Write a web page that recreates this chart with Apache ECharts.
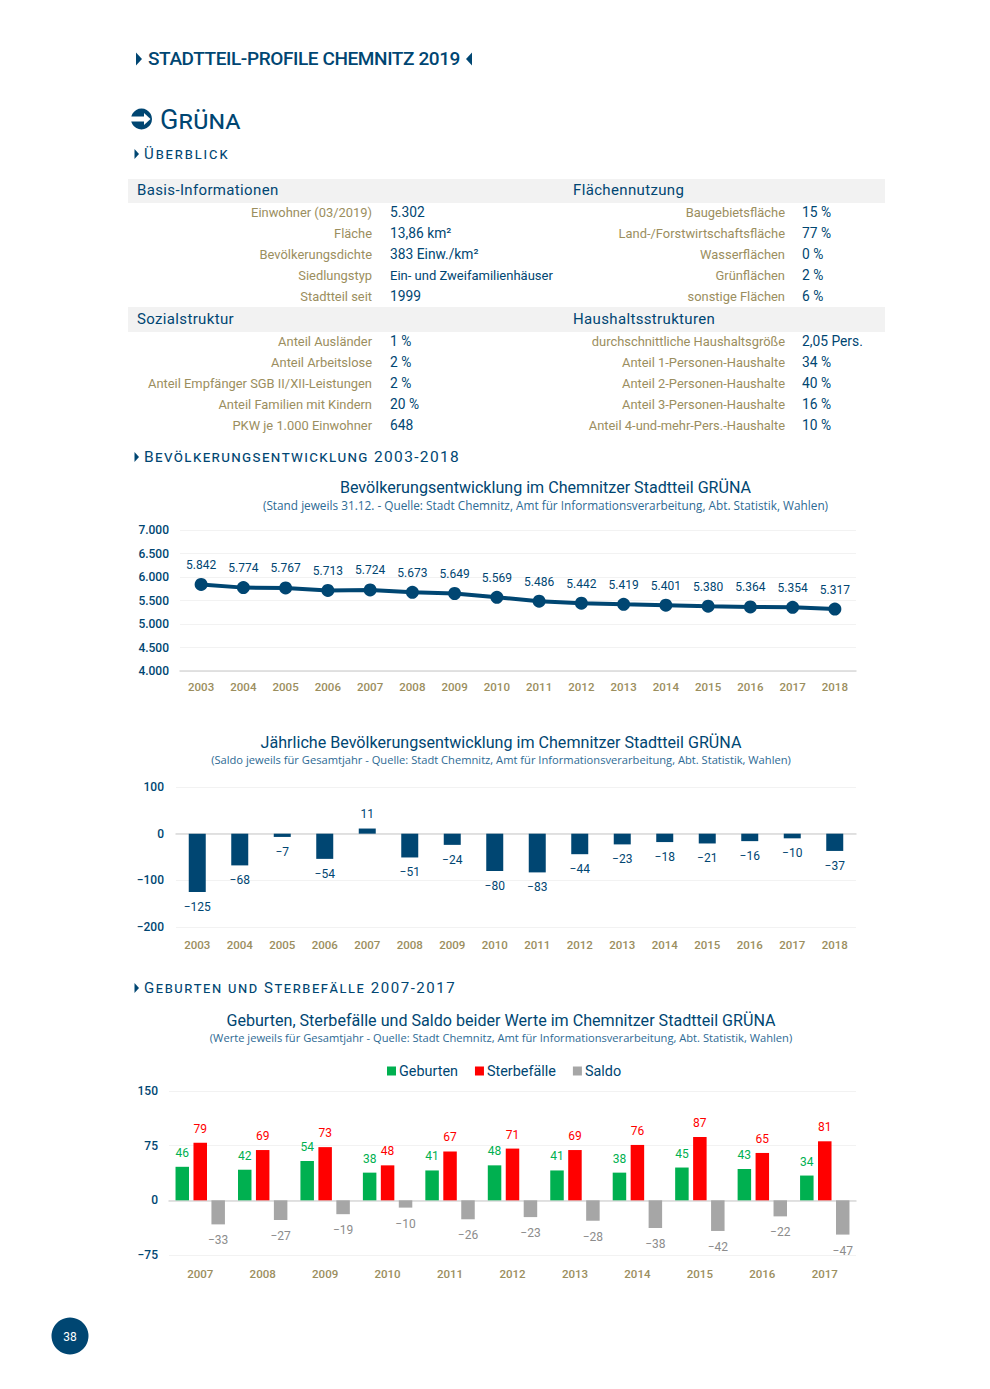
<!DOCTYPE html>
<html><head><meta charset="utf-8">
<style>html,body{margin:0;padding:0;background:#fff}#c{width:990px;height:1389px}</style>
<script src="https://cdn.jsdelivr.net/npm/echarts@6/dist/echarts.min.js"></script>
</head><body><div id="c"></div>
<script>
// ---------- data ----------
const basisLabels = ['Einwohner (03/2019)','Fläche','Bevölkerungsdichte','Siedlungstyp','Stadtteil seit'];
const basisValues = ['5.302','13,86 km²','383 Einw./km²','Ein- und Zweifamilienhäuser','1999'];
const flaecheLabels = ['Baugebietsfläche','Land-/Forstwirtschaftsfläche','Wasserflächen','Grünflächen','sonstige Flächen'];
const flaecheValues = ['15 %','77 %','0 %','2 %','6 %'];
const sozialLabels = ['Anteil Ausländer','Anteil Arbeitslose','Anteil Empfänger SGB II/XII-Leistungen','Anteil Familien mit Kindern','PKW je 1.000 Einwohner'];
const sozialValues = ['1 %','2 %','2 %','20 %','648'];
const haushaltLabels = ['durchschnittliche Haushaltsgröße','Anteil 1-Personen-Haushalte','Anteil 2-Personen-Haushalte','Anteil 3-Personen-Haushalte','Anteil 4-und-mehr-Pers.-Haushalte'];
const haushaltValues = ['2,05 Pers.','34 %','40 %','16 %','10 %'];

const years1 = ['2003','2004','2005','2006','2007','2008','2009','2010','2011','2012','2013','2014','2015','2016','2017','2018'];
const population = [5842,5774,5767,5713,5724,5673,5649,5569,5486,5442,5419,5401,5380,5364,5354,5317];
const saldoYear = [-125,-68,-7,-54,11,-51,-24,-80,-83,-44,-23,-18,-21,-16,-10,-37];
const years2 = ['2007','2008','2009','2010','2011','2012','2013','2014','2015','2016','2017'];
const births = [46,42,54,38,41,48,41,38,45,43,34];
const deaths = [79,69,73,48,67,71,69,76,87,65,81];
const saldo = [-33,-27,-19,-10,-26,-23,-28,-38,-42,-22,-47];

// ---------- style ----------
const BLUE='#004672', GOLD='#9b8e5e', BAND='#f2f2f2', GREEN='#00b050', RED='#ff0000', GREY='#a6a6a6';
const FF='Roboto', SUB='"Open Sans"';
const deNum = v => String(v).replace(/\B(?=(\d{3})+$)/g,'.').replace('-','−');
const minus = v => String(v).replace('-','−');

const spaced = {};  // text -> letter spacing, applied after render
function txt(x,y,text,size,color,align,extra){
  return {type:'text',silent:true,style:Object.assign({x,y,text,fill:color,align:align||'left',verticalAlign:'middle',
    font:`${(extra&&extra.fw)||400} ${size}px ${FF}`},(extra&&extra.font)?{font:extra.font}:{}),z:5};
}
function tri(x,y,w,h,dir){
  const pts = dir>0 ? [[x,y-h],[x+w,y],[x,y+h]] : [[x+w,y-h],[x,y],[x+w,y+h]];
  return {type:'polygon',silent:true,shape:{points:pts},style:{fill:BLUE}};
}
const g = [];
// head
g.push(tri(136,59,6,6.5,1));
g.push(txt(148,58.5,'STADTTEIL-PROFILE CHEMNITZ 2019',19,BLUE,'left',{fw:500}));
spaced['STADTTEIL-PROFILE CHEMNITZ 2019']='-0.4px';
g.push(tri(466,59,6,6.5,-1));
// arrow icon
g.push({type:'circle',silent:true,shape:{cx:141.5,cy:119,r:10.5},style:{fill:BLUE}});
g.push({type:'rect',silent:true,shape:{x:130,y:116.5,width:16,height:5},style:{fill:'#fff'}});
g.push({type:'polygon',silent:true,shape:{points:[[144,113],[150.5,119],[144,125]]},style:{fill:'#fff'}});
g.push(txt(160,120,'Grüna',27,BLUE,'left',{font:`small-caps 400 27px ${FF}`}));
spaced['Grüna']='0.2px';
// section heads
function section(y,text,size,ls){
  g.push(tri(134.5,y,4.5,5,1));
  g.push(txt(144,y,text,size,BLUE,'left',{font:`small-caps 400 ${size}px ${FF}`}));
  spaced[text]=ls;
}
section(154,'Überblick',15,'1.9px');
section(457,'Bevölkerungsentwicklung 2003-2018',15.5,'1.36px');
section(988,'Geburten und Sterbefälle 2007-2017',15,'1.56px');
// table
function band(y,h,t1,t2){
  g.push({type:'rect',silent:true,shape:{x:128,y,width:757,height:h},style:{fill:BAND},z:1});
  g.push(txt(137,y+h/2-1,t1,15,BLUE,'left'));
  g.push(txt(573,y+h/2-1,t2,15,BLUE,'left'));
  spaced[t1]='0.35px'; spaced[t2]='0.35px';
}
function rows(y0,labels,values,xL,xV){
  labels.forEach((l,i)=>{
    g.push(txt(xL,y0+i*21,l,12.9,GOLD,'right'));
    const long = values[i].length>15;
    g.push(txt(xV,y0+i*21,values[i],long?13:13.8,BLUE,'left'));
  });
}
band(179,24,'Basis-Informationen','Flächennutzung');
band(307,25,'Sozialstruktur','Haushaltsstrukturen');
rows(212,basisLabels,basisValues,372,390);
rows(212,flaecheLabels,flaecheValues,785,802);
rows(341,sozialLabels,sozialValues,372,390);
rows(341,haushaltLabels,haushaltValues,785,802);
// page number
g.push({type:'circle',silent:true,shape:{cx:70,cy:1336,r:18.5},style:{fill:BLUE}});
g.push(txt(70,1337,'38',12,'#fff','center',{fw:400}));

function title(x,y,text,sub,y2,subSize){
  return [
    {text,left:x,top:y-9,textAlign:'center',padding:0,textStyle:{fontFamily:FF,fontSize:16.1,fontWeight:400,color:BLUE,lineHeight:18}},
    {text:sub,left:x,top:y2-8,textAlign:'center',padding:0,textStyle:{fontFamily:SUB,fontSize:subSize,fontWeight:400,color:'#2d6a94',lineHeight:16}}
  ];
}
const catAxis=(grid,data,margin)=>[
  {type:'category',gridIndex:grid,data,position:'bottom',axisLine:{show:false,onZero:false},axisTick:{show:false},
   axisLabel:{color:GOLD,fontFamily:FF,fontSize:11.5,margin,fontWeight:500,interval:0},splitLine:{show:false}},
  {type:'category',gridIndex:grid,data,position:'bottom',axisLine:{show:true,onZero:true,lineStyle:{color:'#d9d9d9',width:1.5}},axisTick:{show:false},
   axisLabel:{show:false},splitLine:{show:false}}
];
const valAxis=(grid,min,max,interval,margin,fmt)=>({type:'value',gridIndex:grid,min,max,interval,
  axisLine:{show:false},axisTick:{show:false},
  axisLabel:{color:BLUE,fontFamily:FF,fontSize:12,fontWeight:500,margin,formatter:fmt},
  splitLine:{show:true,lineStyle:{color:'#f2f2f2',width:1}}});
const lab=(color,pos,dist,fmt)=>({show:true,position:pos,distance:dist,color,fontFamily:FF,fontSize:12,fontWeight:400,formatter:p=>fmt(p.value)});

const option={
  animation:false,
  backgroundColor:'#fff',
  title:[].concat(
    title(545.5,487,'Bevölkerungsentwicklung im Chemnitzer Stadtteil GRÜNA','(Stand jeweils 31.12. - Quelle: Stadt Chemnitz, Amt für Informationsverarbeitung, Abt. Statistik, Wahlen)',505,11.8),
    title(501,742,'Jährliche Bevölkerungsentwicklung im Chemnitzer Stadtteil GRÜNA','(Saldo jeweils für Gesamtjahr - Quelle: Stadt Chemnitz, Amt für Informationsverarbeitung, Abt. Statistik, Wahlen)',759.5,11.15),
    title(501,1020,'Geburten, Sterbefälle und Saldo beider Werte im Chemnitzer Stadtteil GRÜNA','(Werte jeweils für Gesamtjahr - Quelle: Stadt Chemnitz, Amt für Informationsverarbeitung, Abt. Statistik, Wahlen)',1037.5,11.15)
  ),
  legend:{data:['Geburten','Sterbefälle','Saldo'],left:382,top:1059,icon:'rect',itemWidth:9,itemHeight:9,itemGap:17,
    textStyle:{color:BLUE,fontFamily:FF,fontSize:14.4,padding:[0,0,0,-2]}},
  grid:[
    {left:180,width:676,top:530,height:141},
    {left:176,width:680,top:787,height:140},
    {left:169,width:687,top:1091,height:164}
  ],
  xAxis:[].concat(catAxis(0,years1,10),catAxis(1,years1,12),catAxis(2,years2,13)),
  yAxis:[
    valAxis(0,4000,7000,500,11,deNum),
    valAxis(1,-200,100,100,12,minus),
    valAxis(2,-75,150,75,11,minus)
  ],
  series:[
    {type:'line',name:'Einwohner',xAxisIndex:0,yAxisIndex:0,data:population,symbol:'circle',symbolSize:13,
     lineStyle:{color:BLUE,width:4},itemStyle:{color:BLUE},label:lab(BLUE,'top',7,deNum)},
    {type:'bar',name:'Saldo Jahr',xAxisIndex:2,yAxisIndex:1,data:saldoYear,barWidth:17,itemStyle:{color:BLUE},
     label:lab(BLUE,'outside',9,minus)},
    {type:'bar',name:'Geburten',xAxisIndex:4,yAxisIndex:2,data:births,barWidth:13.5,barGap:'33%',itemStyle:{color:GREEN},
     label:lab(GREEN,'top',8,minus)},
    {type:'bar',name:'Sterbefälle',xAxisIndex:4,yAxisIndex:2,data:deaths,barWidth:13.5,barGap:'33%',itemStyle:{color:RED},
     label:lab(RED,'top',8,minus)},
    {type:'bar',name:'Saldo',xAxisIndex:4,yAxisIndex:2,data:saldo,barWidth:13.5,barGap:'33%',itemStyle:{color:GREY},
     label:lab('#8c8c8c','bottom',10,minus)}
  ],
  graphic:{elements:g}
};
const chart=echarts.init(document.getElementById('c'),null,{renderer:'svg',width:990,height:1389});
chart.setOption(option);
document.querySelectorAll('svg text').forEach(t=>{
  const ls=spaced[t.textContent];
  if(ls) t.style.letterSpacing=ls;
});
</script></body></html>
